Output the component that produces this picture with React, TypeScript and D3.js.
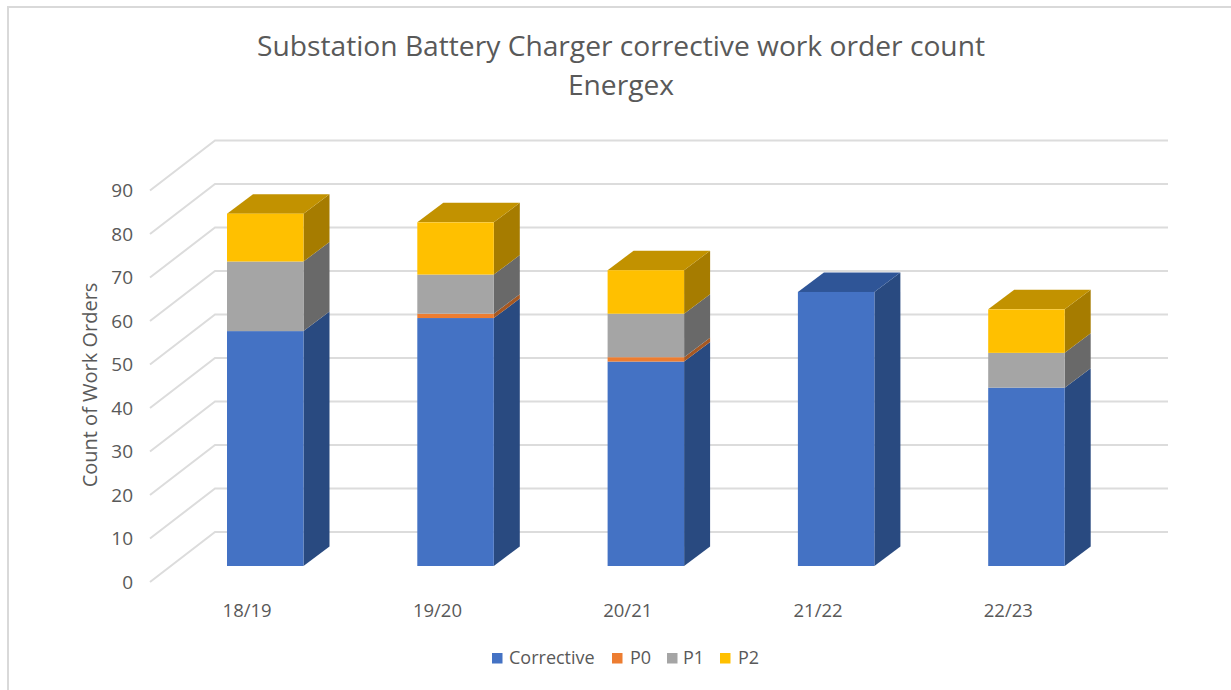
import React from 'react';
import * as d3 from 'd3';

const years = ['18/19', '19/20', '20/21', '21/22', '22/23'];
const corrective = [54, 57, 47, 63, 41];
const p0 = [0, 1, 1, 0, 0];
const p1 = [16, 9, 10, 0, 8];
const p2 = [11, 12, 10, 0, 10];
const seriesNames = ['Corrective', 'P0', 'P1', 'P2'];
const yTicks = [0, 10, 20, 30, 40, 50, 60, 70, 80, 90];

const seriesValues = [corrective, p0, p1, p2];

// front, top and side shades of each series
const colors = {
  Corrective: { front: '#4472c4', top: '#2f5597', side: '#294a80' },
  P0: { front: '#ed7d31', top: '#c0651f', side: '#a65822' },
  P1: { front: '#a5a5a5', top: '#808080', side: '#696969' },
  P2: { front: '#ffc000', top: '#c29200', side: '#a67c00' },
};

const width = 1231;
const height = 690;
const font = '"Open Sans", sans-serif';
const textColor = '#595959';
const gridColor = '#dcdcdc';

// Vars for the fake 3D box
const wallDx = 65;
const wallDy = -50;
const barDx = 26;
const barDy = -19.5;
const barInset = 16;
const barWidth = 76.5;
const barShift = 115.25;

const yScale = d3.scaleLinear().domain([0, 90]).range([582, 190.5]);
const xScale = d3.scaleBand<string>().domain(years).range([150, 1101.5]);

const rows = years.map((year, i) => {
  const row: Record<string, any> = { year };
  seriesNames.forEach((name, s) => {
    row[name] = seriesValues[s][i];
  });
  return row;
});
const stacked = d3.stack<any>().keys(seriesNames)(rows);

const poly = d3.line<number[]>().x((d) => d[0]).y((d) => d[1]);

function Bars() {
  const marks: React.ReactNode[] = [];
  years.forEach((year, i) => {
    const x0 = (xScale(year) as number) + barShift - barWidth / 2;
    const x1 = x0 + barWidth;
    let topLayer = -1;
    stacked.forEach((layer, s) => {
      if (layer[i][1] > layer[i][0]) topLayer = s;
    });
    stacked.forEach((layer, s) => {
      const [v0, v1] = layer[i];
      if (v1 <= v0) return;
      const c = colors[layer.key as keyof typeof colors];
      const yb = yScale(v0) - barInset;
      const yt = yScale(v1) - barInset;
      marks.push(
        <g key={`${year}-${layer.key}`}>
          <path
            d={poly([[x1, yb], [x1 + barDx, yb + barDy], [x1 + barDx, yt + barDy], [x1, yt]]) + 'Z'}
            fill={c.side}
          />
          {s === topLayer && (
            <path
              d={poly([[x0, yt], [x0 + barDx, yt + barDy], [x1 + barDx, yt + barDy], [x1, yt]]) + 'Z'}
              fill={c.top}
            />
          )}
          <rect x={x0} y={yt} width={barWidth} height={yb - yt} fill={c.front} />
        </g>
      );
    });
  });
  return <g>{marks}</g>;
}

const legendSquares = [492, 612, 667, 720];
const legendLabels = [509, 630, 683, 738];

export default function App() {
  return (
    <svg
      width={width}
      height={height}
      viewBox={`0 0 ${width} ${height}`}
      style={{ position: 'absolute', left: 0, top: 0, display: 'block', background: '#fff' }}
      fontFamily={font}
    >
      {/* frame, cropped on the right and bottom */}
      <path d={`M${width},7H8V${height}`} fill="none" stroke="#d9d9d9" strokeWidth={2} />

      <text x={621} y={56} textAnchor="middle" fontSize={28.2} fill={textColor}>
        Substation Battery Charger corrective work order count
      </text>
      <text x={621} y={95} textAnchor="middle" fontSize={28.2} fill={textColor}>
        Energex
      </text>

      {/* gridlines - floor edge then back wall */}
      {yTicks.map((t) => (
        <path
          key={t}
          d={`M150,${yScale(t)}l${wallDx},${wallDy}H1168`}
          fill="none"
          stroke={gridColor}
          strokeWidth={2}
        />
      ))}

      {yTicks.map((t) => (
        <text key={t} x={133} y={yScale(t)} dy="0.36em" textAnchor="end" fontSize={19} fill={textColor}>
          {t}
        </text>
      ))}

      <text
        transform="translate(90,385) rotate(-90)"
        dy="0.36em"
        textAnchor="middle"
        fontSize={20}
        fill={textColor}
      >
        Count of Work Orders
      </text>

      <Bars />

      {years.map((year) => (
        <text
          key={year}
          x={(xScale(year) as number) + xScale.bandwidth() / 2 + 2}
          y={610}
          dy="0.36em"
          textAnchor="middle"
          fontSize={18.5}
          fill={textColor}
        >
          {year}
        </text>
      ))}

      {seriesNames.map((name, i) => (
        <g key={name}>
          <rect
            x={legendSquares[i]}
            y={653}
            width={10.5}
            height={10.5}
            fill={colors[name as keyof typeof colors].front}
          />
          <text x={legendLabels[i]} y={658} dy="0.36em" fontSize={18} fill={textColor}>
            {name}
          </text>
        </g>
      ))}
    </svg>
  );
}
